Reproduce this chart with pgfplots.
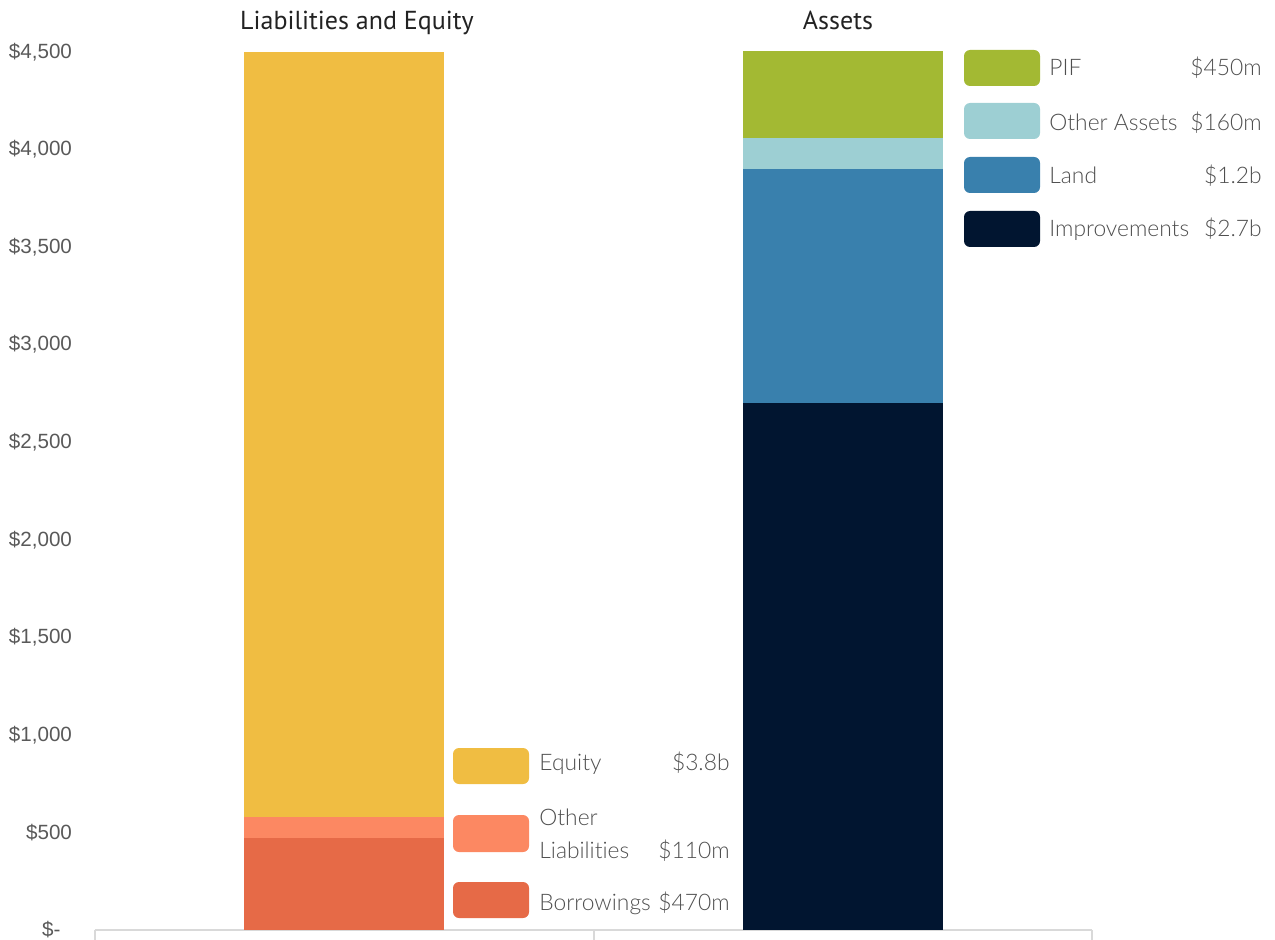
\documentclass[border=0pt]{standalone}
\usepackage{pgfplots}
\pgfplotsset{compat=1.18}
\usepackage{fontspec}
\setmainfont{Liberation Sans}
\newfontfamily\tickfont{Liberation Sans}
\newfontfamily\titlefont{PT Sans}
\newfontfamily\legfont[Ligatures=NoCommon]{Lato Light}

\definecolor{equity}{HTML}{F0BD42}
\definecolor{otherliab}{HTML}{FC8862}
\definecolor{borrow}{HTML}{E66A47}
\definecolor{pif}{HTML}{A3B933}
\definecolor{otherassets}{HTML}{9DCFD3}
\definecolor{land}{HTML}{3980AD}
\definecolor{improve}{HTML}{011530}
\definecolor{tickgray}{HTML}{595959}
\definecolor{leggray}{HTML}{4F4F4F}
\definecolor{titlegray}{HTML}{222222}
\definecolor{axisgray}{HTML}{D9D9D9}

\begin{document}
\begin{tikzpicture}
\useasboundingbox (0,0) rectangle (637.5pt,469.5pt);

\begin{axis}[
  at={(47.5pt,4.5pt)}, anchor=south west,
  scale only axis, width=498.5pt, height=439pt,
  ybar stacked, bar width=100pt,
  xmin=-0.5, xmax=1.5, ymin=0, ymax=4500,
  axis x line*=bottom, axis y line*=left,
  y axis line style={draw=none},
  x axis line style={draw=axisgray, line width=1pt},
  xtick={-0.5,0.5,1.5}, xticklabels={},
  xtick style={draw=axisgray, line width=1pt},
  major tick length=5pt,
  tick align=outside,
  ytick={0,500,...,4500},
  yticklabels={{\$-\phantom{0}},{\$500},{\$1,000},{\$1,500},{\$2,000},{\$2,500},{\$3,000},{\$3,500},{\$4,000},{\$4,500}},
  ytick style={draw=none},
  yticklabel style={font=\tickfont\fontsize{10.3}{12}\selectfont, text=tickgray, anchor=east, xshift=-3pt},
  every axis plot/.append style={draw=none},
]
% Liabilities and Equity (category 0)
\addplot+[fill=borrow]     coordinates {(0,470) (1,0)};
\addplot+[fill=otherliab]  coordinates {(0,110) (1,0)};
\addplot+[fill=equity]     coordinates {(0,3920) (1,0)};
% Assets (category 1)
\addplot+[fill=improve]     coordinates {(0,0) (1,2700)};
\addplot+[fill=land]        coordinates {(0,0) (1,1200)};
\addplot+[fill=otherassets] coordinates {(0,0) (1,160)};
\addplot+[fill=pif]         coordinates {(0,0) (1,450)};
\end{axis}

% column titles
\node[font=\titlefont\fontsize{13}{15}\selectfont, text=titlegray, anchor=base, inner sep=0] at (178.5pt,454.5pt) {Liabilities and Equity};
\node[font=\titlefont\fontsize{13}{15}\selectfont, text=titlegray, anchor=base, inner sep=0] at (419pt,454.5pt) {Assets};

% legend: liabilities and equity
\begin{scope}[every node/.style={font=\legfont\fontsize{11.4}{14}\selectfont, text=leggray, inner sep=0}]
\fill[equity, rounded corners=3pt] (226.5pt,77.5pt) rectangle (264.5pt,95.5pt);
\fill[otherliab, rounded corners=3pt] (226.5pt,43.5pt) rectangle (264.5pt,62pt);
\fill[borrow, rounded corners=3pt] (226.5pt,10.5pt) rectangle (264.5pt,28.5pt);
\node[anchor=base west] at (269.5pt,84.5pt) {Equity};
\node[anchor=base west] at (269.5pt,57pt) {Other};
\node[anchor=base west] at (269.5pt,40.5pt) {Liabilities};
\node[anchor=base west] at (269.5pt,14.5pt) {Borrowings};
\node[anchor=base east] at (365pt,84.5pt) {\$3.8b};
\node[anchor=base east] at (365pt,40.5pt) {\$110m};
\node[anchor=base east] at (365pt,14.5pt) {\$470m};

% legend: assets
\fill[pif, rounded corners=3pt] (482pt,426.5pt) rectangle (520pt,444.5pt);
\fill[otherassets, rounded corners=3pt] (482pt,400pt) rectangle (520pt,418pt);
\fill[land, rounded corners=3pt] (482pt,373pt) rectangle (520pt,391pt);
\fill[improve, rounded corners=3pt] (482pt,346pt) rectangle (520pt,364pt);
\node[anchor=base west] at (524.5pt,431.5pt) {PIF};
\node[anchor=base west] at (524.5pt,404pt) {Other Assets};
\node[anchor=base west] at (524.5pt,377.5pt) {Land};
\node[anchor=base west] at (524.5pt,351pt) {Improvements};
\node[anchor=base east] at (631pt,431.5pt) {\$450m};
\node[anchor=base east] at (631pt,404pt) {\$160m};
\node[anchor=base east] at (631pt,377.5pt) {\$1.2b};
\node[anchor=base east] at (631pt,351pt) {\$2.7b};
\end{scope}
\end{tikzpicture}
\end{document}
